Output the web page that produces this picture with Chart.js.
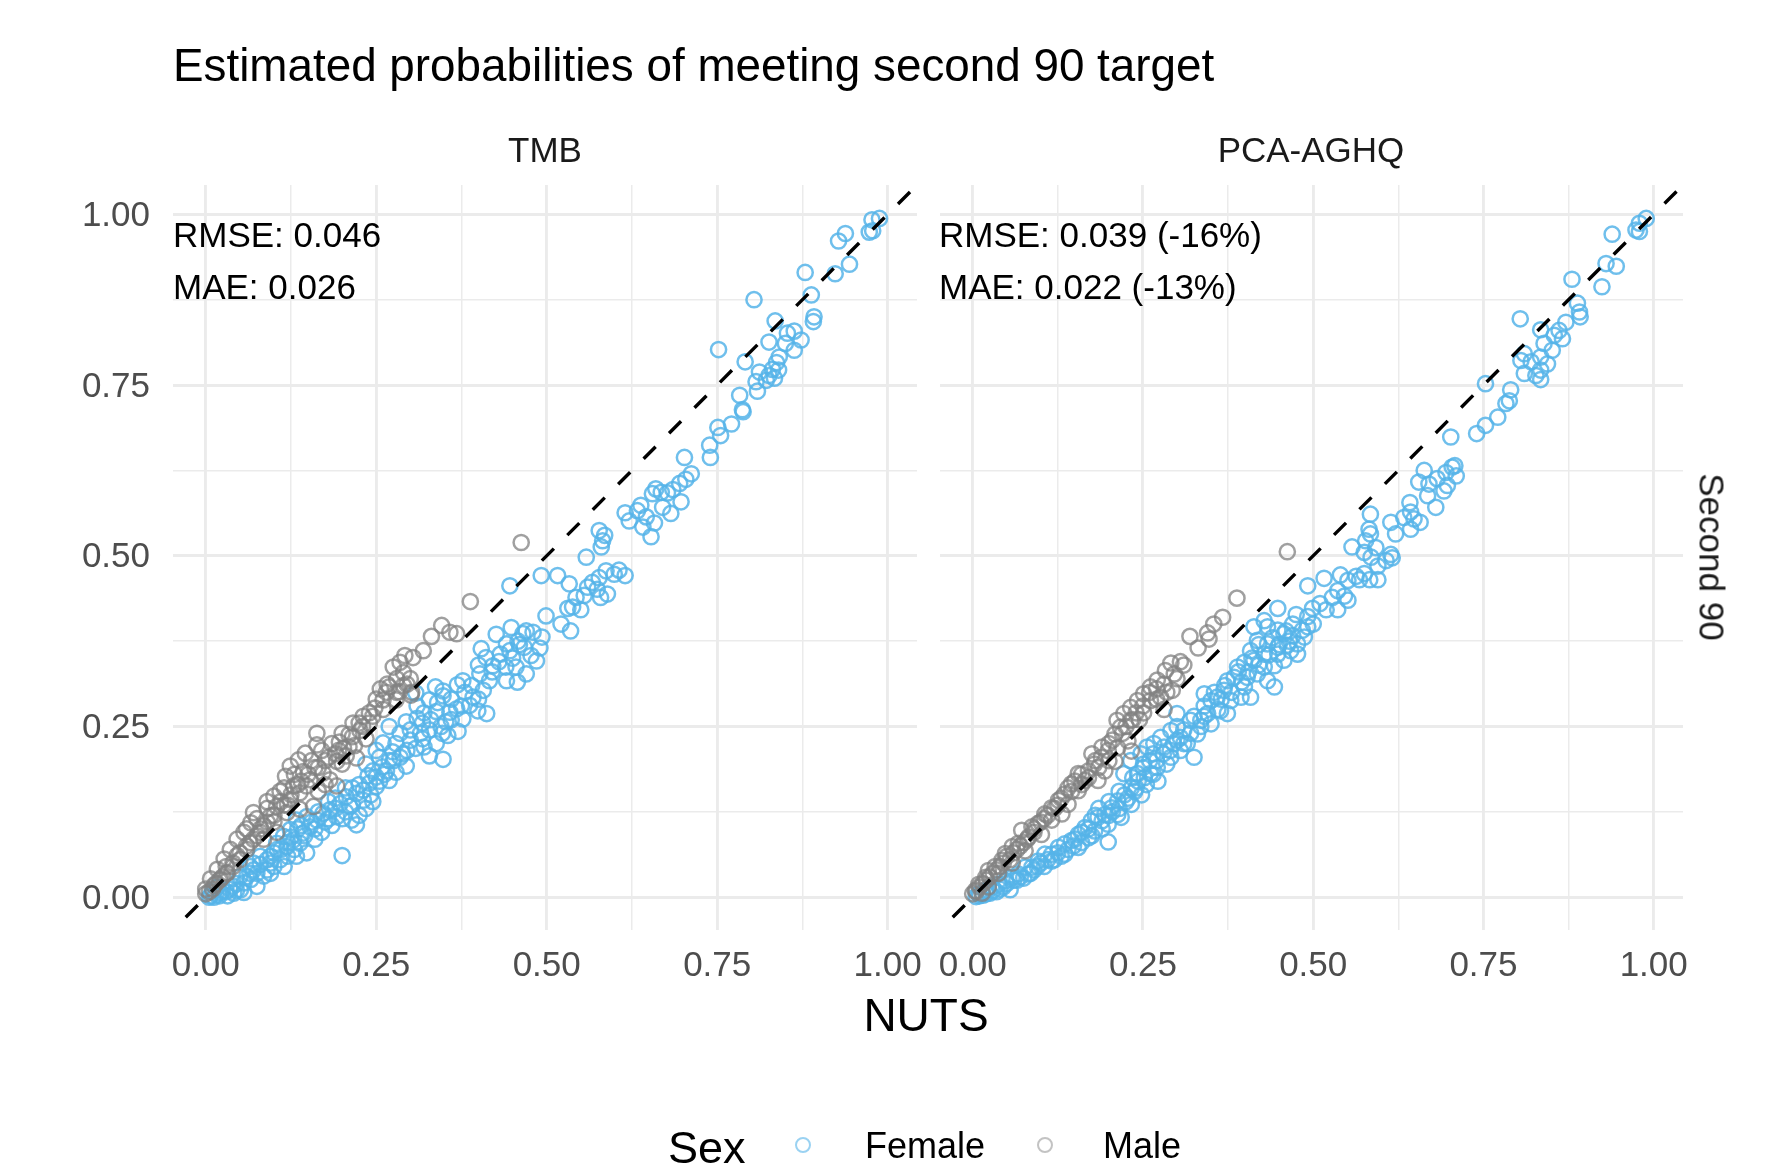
<!DOCTYPE html>
<html><head><meta charset="utf-8">
<script src="https://cdn.jsdelivr.net/npm/chart.js@4.4.1/dist/chart.umd.min.js"></script>
<style>
html,body{margin:0;padding:0;background:#fff;}
#wrap{position:relative;width:1769px;height:1170px;overflow:hidden;font-family:"Liberation Sans",Arial,Helvetica,sans-serif;}
canvas{position:absolute;left:0;top:0;}
.t{position:absolute;white-space:nowrap;line-height:1;}
.key{position:absolute;box-sizing:border-box;border-radius:50%;}
</style></head><body>
<div id="wrap">
<canvas id="cL" width="1769" height="1170"></canvas>
<canvas id="cR" width="1769" height="1170"></canvas>
<div id="texts"></div>
</div>
<script>
// ---------------- data ----------------
const chartTitle = 'Estimated probabilities of meeting second 90 target';
const panels = ['TMB', 'PCA-AGHQ'];
const rowStrip = 'Second 90';
const xTitle = 'NUTS';
const legendTitle = 'Sex';
const seriesNames = ['Female', 'Male'];
const rmseText = ['RMSE: 0.046', 'RMSE: 0.039 (-16%)'];
const maeText = ['MAE: 0.026', 'MAE: 0.022 (-13%)'];
const tickValues = [0, 0.25, 0.5, 0.75, 1];
const gridValues = [0, 0.125, 0.25, 0.375, 0.5, 0.625, 0.75, 0.875, 1];

const tmbFemale = [
[0.988,0.994],[0.977,0.992],[0.973,0.974],[0.978,0.976],[0.938,0.972],[0.928,0.961],
[0.944,0.927],[0.923,0.913],[0.879,0.915],[0.888,0.882],[0.804,0.875],[0.892,0.85],[0.891,0.843],
[0.835,0.844],[0.863,0.829],[0.853,0.826],[0.873,0.816],[0.863,0.801],[0.85,0.811],[0.826,0.813],
[0.752,0.802],[0.841,0.791],[0.837,0.783],[0.831,0.773],[0.84,0.772],[0.826,0.764],[0.834,0.76],
[0.822,0.757],[0.812,0.769],[0.791,0.784],[0.807,0.755],[0.809,0.741],[0.783,0.735],[0.787,0.714],
[0.788,0.711],[0.771,0.693],[0.751,0.688],[0.755,0.676],[0.739,0.662],[0.74,0.644],[0.702,0.644],
[0.712,0.62],[0.704,0.612],[0.695,0.606],[0.685,0.597],[0.677,0.592],[0.668,0.593],[0.66,0.598],
[0.655,0.591],[0.697,0.579],[0.682,0.562],[0.67,0.571],[0.638,0.574],[0.633,0.566],[0.615,0.563],
[0.621,0.551],[0.646,0.557],[0.658,0.548],[0.641,0.542],[0.653,0.528],[0.577,0.537],[0.585,0.53],
[0.582,0.522],[0.58,0.513],[0.558,0.498],
[0.446,0.456],[0.492,0.471],[0.516,0.471],[0.533,0.459],[0.587,0.478],[0.577,0.468],[0.599,0.473],
[0.567,0.461],[0.574,0.451],[0.56,0.454],[0.579,0.439],[0.555,0.442],[0.589,0.444],[0.606,0.479],
[0.615,0.471],[0.543,0.439],[0.538,0.425],[0.55,0.421],[0.531,0.423],[0.499,0.412],[0.521,0.4],
[0.535,0.39],[0.426,0.385],[0.448,0.395],[0.465,0.386],[0.48,0.388],[0.493,0.381],[0.441,0.371],
[0.458,0.375],[0.432,0.356],[0.404,0.364],[0.411,0.351],[0.446,0.361],[0.467,0.366],[0.477,0.354],
[0.485,0.346],[0.421,0.339],[0.44,0.337],[0.455,0.337],[0.47,0.327],[0.457,0.315],[0.441,0.317],
[0.416,0.317],[0.402,0.327],[0.407,0.303],[0.392,0.293],[0.377,0.317],[0.369,0.311],[0.387,0.281],
[0.368,0.276],[0.377,0.261],[0.399,0.273],[0.412,0.269],[0.37,0.243],[0.348,0.302],[0.358,0.271],
[0.355,0.237],
[0.337,0.308],[0.348,0.295],[0.328,0.289],[0.308,0.299],[0.338,0.272],[0.352,0.257],[0.318,0.255],
[0.294,0.257],[0.328,0.245],[0.347,0.24],[0.318,0.232],[0.338,0.225],[0.308,0.218],[0.348,0.202],
[0.328,0.207],[0.269,0.25],[0.26,0.226],[0.279,0.225],[0.289,0.21],[0.269,0.2],[0.294,0.192],
[0.279,0.183],[0.259,0.191],[0.25,0.176],[0.269,0.171],[0.24,0.167],[0.231,0.157],[0.25,0.162],
[0.221,0.152],[0.206,0.147],[0.211,0.133],[0.197,0.137],[0.231,0.142],[0.182,0.128],[0.192,0.118],
[0.172,0.123],[0.214,0.113],[0.221,0.106],[0.163,0.113],[0.148,0.118],[0.133,0.113],[0.153,0.103],
[0.143,0.094],[0.124,0.099],[0.129,0.084],[0.114,0.089],[0.119,0.074],[0.104,0.079],[0.138,0.079],
[0.148,0.065],[0.133,0.06],[0.1,0.065],[0.09,0.055],[0.109,0.055],[0.08,0.048],[0.07,0.04],
[0.085,0.031],[0.066,0.026],[0.056,0.021],[0.095,0.035],[0.075,0.016],[0.051,0.011],[0.041,0.006],
[0.032,0.002],[0.022,0.007],[0.007,0.002],[0.017,0.015],[0.2,0.061],[0.056,0.007],
[0.3,0.245],[0.31,0.262],[0.285,0.24],[0.274,0.213],[0.255,0.205],[0.245,0.185],[0.238,0.178],
[0.262,0.18],[0.225,0.165],[0.215,0.16],[0.242,0.15],[0.205,0.125],[0.19,0.13],[0.175,0.11],
[0.2,0.115],[0.16,0.1],[0.17,0.095],[0.185,0.105],[0.14,0.105],[0.125,0.088],[0.13,0.07],
[0.11,0.07],[0.095,0.06],[0.12,0.06],[0.1,0.045],[0.075,0.035],[0.065,0.045],[0.06,0.03],
[0.045,0.02],[0.035,0.012],[0.025,0.01],[0.015,0.004],[0.01,0.008],[0.005,0.0],[0.04,0.016],
[0.09,0.04],[0.115,0.045],[0.16,0.085],[0.18,0.14],[0.235,0.195],[0.25,0.215],[0.32,0.27],
[0.36,0.29],[0.31,0.28],
[0.205,0.16],[0.215,0.135],[0.225,0.12],[0.19,0.145],[0.18,0.115],[0.165,0.125],[0.155,0.11],
[0.145,0.09],[0.135,0.1],[0.12,0.08],[0.105,0.07],[0.095,0.05],[0.08,0.06],[0.07,0.05],
[0.065,0.035],[0.05,0.03],[0.045,0.01],[0.03,0.008],[0.02,0.002],[0.012,0.0],[0.235,0.13],
[0.245,0.14],[0.255,0.17],[0.265,0.185],[0.275,0.2],[0.285,0.205],[0.295,0.215],[0.3,0.23],
[0.315,0.24],[0.32,0.22],[0.33,0.26],[0.34,0.285],[0.345,0.25],[0.36,0.26],[0.375,0.28],
[0.38,0.3],[0.39,0.31],[0.4,0.29],[0.42,0.33],[0.43,0.345],[0.45,0.35],[0.46,0.37],[0.47,0.39],
[0.49,0.365],[0.4,0.34]
];
const tmbMale = [
[0.4626,0.5195],[0.388,0.433],[0.346,0.398],[0.358,0.388],[0.368,0.386],[0.331,0.382],[0.319,0.361],
[0.304,0.351],[0.292,0.354],[0.285,0.344],[0.275,0.337],[0.29,0.329],[0.28,0.32],[0.266,0.312],
[0.256,0.305],[0.295,0.312],[0.302,0.3],
[0.269,0.308],[0.284,0.301],[0.301,0.296],[0.26,0.289],[0.248,0.277],[0.279,0.289],[0.231,0.265],
[0.216,0.255],[0.24,0.255],[0.226,0.244],[0.21,0.238],[0.235,0.232],[0.218,0.222],[0.202,0.218],
[0.196,0.227],[0.206,0.207],[0.221,0.204],[0.192,0.199],[0.163,0.24],[0.163,0.223],[0.146,0.211],
[0.136,0.201],[0.124,0.192],[0.117,0.177],[0.143,0.184],[0.153,0.172],[0.172,0.182],[0.182,0.172],
[0.192,0.163],[0.129,0.163],[0.109,0.155],[0.1,0.148],[0.124,0.143],[0.138,0.153],[0.148,0.163],
[0.158,0.133],[0.138,0.129],[0.119,0.124],[0.104,0.133],[0.095,0.119],[0.07,0.124],[0.066,0.109],
[0.08,0.1],[0.056,0.095],[0.046,0.085],[0.085,0.085],[0.104,0.095],[0.036,0.07],[0.027,0.056],
[0.046,0.061],[0.017,0.041],[0.032,0.036],[0.007,0.027],[0.0,0.012],[0.0,0.005],[0.012,0.017],
[0.022,0.027],
[0.25,0.29],[0.265,0.3],[0.24,0.27],[0.225,0.255],[0.2,0.24],[0.185,0.225],[0.19,0.21],
[0.175,0.2],[0.16,0.19],[0.155,0.2],[0.17,0.215],[0.14,0.17],[0.13,0.18],[0.115,0.16],
[0.12,0.135],[0.11,0.14],[0.09,0.13],[0.1,0.11],[0.085,0.105],[0.075,0.09],[0.065,0.08],
[0.06,0.07],[0.05,0.065],[0.04,0.05],[0.03,0.045],[0.025,0.03],[0.015,0.02],[0.01,0.012],
[0.005,0.008],[0.06,0.1],[0.09,0.14],[0.075,0.115],[0.2,0.195],[0.21,0.22],[0.165,0.155],
[0.175,0.165],
[0.26,0.275],[0.245,0.265],[0.23,0.25],[0.215,0.235],[0.195,0.215],[0.18,0.205],[0.165,0.19],
[0.15,0.18],[0.135,0.165],[0.125,0.15],[0.115,0.135],[0.1,0.12],[0.09,0.11],[0.08,0.095],
[0.07,0.085],[0.06,0.075],[0.05,0.055],[0.04,0.045],[0.03,0.035],[0.02,0.025],[0.28,0.3],
[0.29,0.31],[0.3,0.32]
];
const aghqFemale = [
[0.989,0.994],[0.979,0.987],[0.974,0.977],[0.979,0.975],[0.939,0.971],[0.93,0.928],[0.945,0.924],
[0.924,0.894],[0.88,0.905],[0.888,0.87],[0.892,0.85],[0.891,0.857],[0.804,0.847],[0.871,0.842],
[0.861,0.83],[0.866,0.818],[0.834,0.831],[0.854,0.823],[0.839,0.811],[0.851,0.801],[0.81,0.796],
[0.805,0.786],[0.834,0.791],[0.844,0.781],[0.82,0.784],[0.81,0.767],[0.834,0.772],[0.827,0.764],
[0.834,0.758],[0.753,0.752],[0.79,0.743],[0.788,0.727],[0.783,0.723],[0.771,0.703],[0.753,0.691],
[0.74,0.679],[0.702,0.674],[0.704,0.63],[0.708,0.632],[0.71,0.617],[0.695,0.622],[0.682,0.613],
[0.663,0.625],[0.655,0.608],[0.67,0.605],[0.697,0.603],[0.692,0.595],[0.668,0.588],[0.68,0.571],
[0.642,0.578],[0.643,0.564],[0.633,0.556],[0.648,0.554],[0.657,0.549],[0.643,0.539],[0.614,0.549],
[0.621,0.532],[0.584,0.561],[0.582,0.539],[0.584,0.532],[0.577,0.522],[0.592,0.512],[0.557,0.513],
[0.575,0.505],[0.614,0.502],
[0.616,0.497],[0.607,0.493],[0.595,0.485],[0.585,0.498],[0.575,0.474],[0.568,0.465],[0.583,0.465],
[0.563,0.47],[0.595,0.465],[0.516,0.467],[0.54,0.472],[0.551,0.464],[0.536,0.449],[0.546,0.441],
[0.528,0.439],[0.551,0.435],[0.492,0.456],[0.448,0.423],[0.475,0.414],[0.499,0.423],[0.492,0.411],
[0.519,0.421],[0.536,0.421],[0.428,0.405],[0.433,0.396],[0.413,0.396],[0.448,0.391],[0.457,0.386],
[0.47,0.383],[0.484,0.391],[0.492,0.396],[0.487,0.381],[0.477,0.371],[0.462,0.369],[0.448,0.366],
[0.433,0.371],[0.418,0.376],[0.408,0.361],[0.428,0.356],[0.448,0.356],[0.467,0.361],[0.477,0.356],
[0.413,0.347],[0.428,0.337],[0.443,0.339],[0.457,0.347],[0.399,0.344],[0.389,0.337],[0.418,0.327],
[0.403,0.322],[0.433,0.317],[0.443,0.308],[0.384,0.322],[0.374,0.317],[0.369,0.303],[0.399,0.308],
[0.394,0.293],[0.359,0.293],[0.35,0.288],[0.34,0.298],[0.379,0.288],[0.408,0.293],[0.364,0.273],
[0.374,0.269],[0.345,0.269],[0.335,0.259],[0.35,0.254],[0.32,0.259],[0.33,0.239],[0.3,0.269],
[0.291,0.244],[0.305,0.234],[0.276,0.234],[0.281,0.22],[0.266,0.225],[0.256,0.22],[0.247,0.21],
[0.232,0.2],[0.251,0.195],[0.271,0.19],[0.291,0.205],[0.305,0.215],[0.315,0.225],[0.325,0.205],
[0.261,0.181],[0.242,0.181],[0.222,0.181],
[0.272,0.17],[0.252,0.175],[0.243,0.17],[0.248,0.15],[0.233,0.16],[0.223,0.15],[0.213,0.141],
[0.233,0.136],[0.204,0.131],[0.194,0.121],[0.213,0.121],[0.218,0.117],[0.184,0.117],[0.174,0.112],
[0.199,0.107],[0.179,0.097],[0.165,0.102],[0.155,0.092],[0.17,0.087],[0.145,0.083],[0.135,0.078],
[0.155,0.073],[0.126,0.073],[0.116,0.063],[0.135,0.063],[0.106,0.063],[0.096,0.053],[0.116,0.053],
[0.087,0.044],[0.077,0.044],[0.067,0.034],[0.082,0.034],[0.058,0.029],[0.048,0.024],[0.038,0.019],
[0.028,0.015],[0.019,0.01],[0.009,0.005],[0.055,0.011],[0.199,0.081],
[0.24,0.16],[0.225,0.14],[0.205,0.125],[0.19,0.112],[0.185,0.13],[0.17,0.1],[0.16,0.095],
[0.15,0.085],[0.14,0.07],[0.125,0.065],[0.11,0.055],[0.1,0.05],[0.09,0.04],[0.07,0.03],
[0.06,0.025],[0.05,0.02],[0.04,0.012],[0.03,0.01],[0.02,0.005],[0.01,0.002],[0.26,0.2],
[0.28,0.21],[0.295,0.225],[0.31,0.245],[0.325,0.265],[0.265,0.21],[0.25,0.19],[0.235,0.175],
[0.215,0.155],[0.2,0.14],[0.18,0.12],[0.3,0.25],[0.34,0.28],[0.355,0.3],[0.37,0.31],[0.39,0.33],
[0.41,0.35],[0.42,0.37],[0.44,0.38],[0.46,0.39],
[0.215,0.13],[0.228,0.145],[0.238,0.155],[0.2,0.12],[0.19,0.1],[0.175,0.09],[0.16,0.08],
[0.148,0.075],[0.13,0.06],[0.12,0.055],[0.105,0.045],[0.095,0.045],[0.085,0.035],[0.075,0.028],
[0.065,0.025],[0.045,0.015],[0.035,0.008],[0.025,0.006],[0.015,0.003],[0.005,0.001],[0.255,0.165],
[0.265,0.18],[0.27,0.2],[0.285,0.195],[0.29,0.215],[0.3,0.23],[0.31,0.225],[0.32,0.24],
[0.335,0.25],[0.34,0.265],[0.36,0.275],[0.365,0.29],[0.38,0.3],[0.395,0.315],[0.405,0.33],
[0.42,0.34],[0.435,0.355],[0.45,0.37],[0.465,0.375],[0.47,0.4],[0.5,0.4],[0.51,0.43]
];
const aghqMale = [
[0.462,0.506],[0.388,0.438],[0.367,0.41],[0.354,0.4],[0.345,0.387],[0.347,0.378],[0.331,0.365],
[0.319,0.382],[0.305,0.345],[0.291,0.343],[0.283,0.332],[0.296,0.327],[0.271,0.318],[0.281,0.312],
[0.261,0.308],[0.251,0.298],[0.293,0.303],[0.276,0.293],[0.261,0.288],[0.242,0.288],[0.232,0.278],
[0.222,0.269],[0.212,0.259],[0.217,0.249],[0.232,0.259],[0.251,0.27],[0.281,0.275],
[0.228,0.229],[0.213,0.219],[0.199,0.215],[0.233,0.214],[0.189,0.205],[0.209,0.199],[0.179,0.195],
[0.17,0.185],[0.194,0.185],[0.155,0.181],[0.165,0.171],[0.184,0.171],[0.145,0.166],[0.155,0.156],
[0.135,0.151],[0.126,0.142],[0.14,0.136],[0.116,0.131],[0.131,0.122],[0.106,0.122],[0.116,0.113],
[0.096,0.108],[0.087,0.103],[0.101,0.092],[0.082,0.088],[0.072,0.098],[0.067,0.079],[0.058,0.074],
[0.077,0.068],[0.048,0.064],[0.043,0.054],[0.058,0.05],[0.033,0.045],[0.023,0.039],[0.038,0.035],
[0.019,0.029],[0.009,0.019],[0.023,0.015],[0.004,0.01],[0.0,0.005],[0.014,0.006],[0.209,0.239],
[0.24,0.27],[0.225,0.25],[0.205,0.23],[0.19,0.22],[0.18,0.2],[0.16,0.18],[0.15,0.17],
[0.13,0.145],[0.12,0.13],[0.11,0.12],[0.1,0.11],[0.09,0.095],[0.08,0.085],[0.07,0.075],
[0.06,0.065],[0.05,0.06],[0.04,0.045],[0.03,0.035],[0.02,0.025],[0.01,0.015],[0.26,0.3],
[0.27,0.305],[0.25,0.28],[0.235,0.26],[0.2,0.2],[0.17,0.175],
[0.245,0.26],[0.22,0.24],[0.2,0.225],[0.185,0.19],[0.175,0.21],[0.16,0.165],[0.145,0.155],
[0.14,0.16],[0.125,0.135],[0.105,0.115],[0.09,0.1],[0.075,0.08],[0.065,0.07],[0.055,0.055],
[0.045,0.05],[0.035,0.04],[0.025,0.03],[0.015,0.02],[0.005,0.008],[0.27,0.29],[0.285,0.3],
[0.3,0.32],[0.31,0.34]
];

// ---------------- styling ----------------
const FONT = '"Liberation Sans", Arial, Helvetica, sans-serif';
Chart.defaults.font.family = FONT;
const femaleColor = 'rgba(86,180,233,0.85)';
const maleColor = 'rgba(130,130,130,0.76)';
const axisMin = -0.048, axisMax = 1.043;
const isMajor = v => tickValues.some(t => Math.abs(t - v) < 1e-6);
const toXY = arr => arr.map(p => ({x: p[0], y: p[1]}));
const setTicks = s => { s.ticks = gridValues.map(v => ({value: v})); };

function makeChart(id, female, male, pad, yWidth, showY) {
  const gridOpt = {color: '#EBEBEB', drawTicks: false,
                   lineWidth: c => (c.tick && isMajor(c.tick.value)) ? 2.9 : 1.5};
  return new Chart(document.getElementById(id), {
    type: 'scatter',
    data: {datasets: [
      {type: 'line', data: [{x: axisMin, y: axisMin}, {x: axisMax, y: axisMax}],
       borderColor: '#000', borderWidth: 3.4, borderDash: [17, 19], borderDashOffset: 18,
       pointRadius: 0, fill: false, order: 0},
      {label: seriesNames[1], data: toXY(male), pointStyle: 'circle', pointRadius: 7.6, borderWidth: 2.5,
       borderColor: maleColor, backgroundColor: 'rgba(0,0,0,0)', order: 1},
      {label: seriesNames[0], data: toXY(female), pointStyle: 'circle', pointRadius: 7.6, borderWidth: 2.5,
       borderColor: femaleColor, backgroundColor: 'rgba(0,0,0,0)', order: 2}
    ]},
    options: {
      responsive: false, animation: false, events: [],
      layout: {padding: pad},
      plugins: {legend: {display: false}, tooltip: {enabled: false}},
      scales: {
        x: {type: 'linear', bounds: 'data', min: axisMin, max: axisMax,
            afterBuildTicks: setTicks,
            afterFit: s => { s.height = 240; },
            border: {display: false},
            grid: gridOpt,
            ticks: {autoSkip: false, maxRotation: 0, minRotation: 0,
                    padding: 15, color: '#4D4D4D', font: {size: 35},
                    callback: v => isMajor(v) ? v.toFixed(2) : ''}},
        y: {type: 'linear', bounds: 'data', min: axisMin, max: axisMax,
            afterBuildTicks: setTicks,
            afterFit: s => { s.width = yWidth; },
            border: {display: false},
            grid: gridOpt,
            ticks: {display: showY, autoSkip: false, labelOffset: 2,
                    padding: 23, color: '#4D4D4D', font: {size: 35},
                    callback: v => isMajor(v) ? v.toFixed(2) : ''}}
      }
    }
  });
}

makeChart('cL', tmbFemale, tmbMale, {left: 0, top: 185, right: 1769 - 917, bottom: 0}, 173, true);
makeChart('cR', aghqFemale, aghqMale, {left: 930, top: 185, right: 1769 - 1683, bottom: 0}, 10, false);

// ---------------- text ----------------
const T = document.getElementById('texts');
function addText(txt, style) {
  const d = document.createElement('div');
  d.className = 't';
  d.textContent = txt;
  Object.assign(d.style, style);
  T.appendChild(d);
  return d;
}
addText(chartTitle, {left: '173px', top: '43px', fontSize: '45.8px', color: '#000'});
addText(panels[0], {left: '545px', top: '132px', fontSize: '35px', color: '#1A1A1A', transform: 'translateX(-50%)'});
addText(panels[1], {left: '1311px', top: '132px', fontSize: '35px', color: '#1A1A1A', transform: 'translateX(-50%)'});
addText(rmseText[0], {left: '173px', top: '217px', fontSize: '35px', color: '#000'});
addText(maeText[0], {left: '173px', top: '269px', fontSize: '35px', color: '#000'});
addText(rmseText[1], {left: '939px', top: '217px', fontSize: '35px', color: '#000'});
addText(maeText[1], {left: '939px', top: '269px', fontSize: '35px', color: '#000'});
addText(xTitle, {left: '926px', top: '992px', fontSize: '46px', color: '#000', transform: 'translateX(-50%)'});
addText(rowStrip, {left: '1712px', top: '557px', fontSize: '35px', color: '#1A1A1A', transform: 'translate(-50%,-50%) rotate(90deg)'});
addText(legendTitle, {left: '668px', top: '1125px', fontSize: '45px', color: '#000'});
addText(seriesNames[0], {left: '865px', top: '1128px', fontSize: '36px', color: '#000'});
addText(seriesNames[1], {left: '1103px', top: '1128px', fontSize: '36px', color: '#000'});
function addKey(cx, cy, col) {
  const k = document.createElement('div');
  k.className = 'key';
  const d = 16;
  k.style.width = d + 'px';
  k.style.height = d + 'px';
  k.style.left = (cx - d / 2) + 'px';
  k.style.top = (cy - d / 2) + 'px';
  k.style.border = '2.3px solid ' + col;
  T.appendChild(k);
}
addKey(803, 1145, 'rgba(86,180,233,0.6)');
addKey(1045, 1145, 'rgba(135,135,135,0.5)');
</script>
</body></html>
